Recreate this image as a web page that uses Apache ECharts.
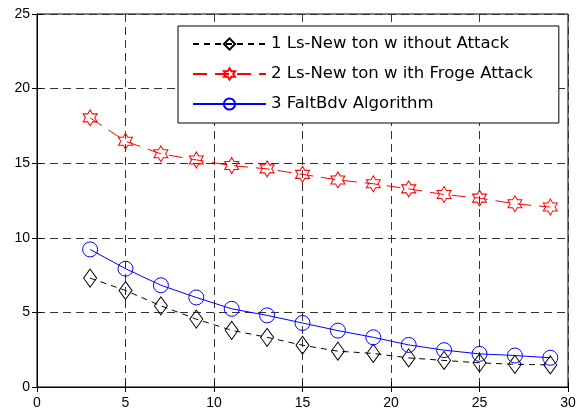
<!DOCTYPE html>
<html>
<head>
<meta charset="utf-8">
<script src="https://cdn.jsdelivr.net/npm/echarts@6/dist/echarts.min.js"></script>
<style>
  html, body { margin: 0; padding: 0; background: #fff; }
  #chart { width: 580px; height: 417px; }
</style>
</head>
<body>
<div id="chart"></div>
<script>
// x positions shared by all three curves
const xValues = [3, 5, 7, 9, 11, 13, 15, 17, 19, 21, 23, 25, 27, 29];

const withoutAttack = [7.3, 6.47, 5.44, 4.55, 3.8, 3.33, 2.8, 2.4, 2.25, 1.95, 1.78, 1.62, 1.52, 1.48];
const frogeAttack = [18.04, 16.47, 15.63, 15.22, 14.84, 14.62, 14.25, 13.88, 13.62, 13.28, 12.9, 12.66, 12.28, 12.06];
const faltBdv = [9.22, 7.93, 6.82, 6.0, 5.24, 4.8, 4.29, 3.78, 3.33, 2.82, 2.47, 2.22, 2.11, 1.96];

const seriesNames = [
  '1 Ls-New ton w ithout Attack',
  '2 Ls-New ton w ith Froge Attack',
  '3 FaltBdv Algorithm'
];

const xTicks = { min: 0, max: 30, interval: 5 };
const yTicks = { min: 0, max: 25, interval: 5 };

// six-pointed star marker (matlab 'h')
const HEXAGRAM = 'path://M0 -100 L29 -50 L87 -50 L58 0 L87 50 L29 50 L0 100 L-29 50 L-87 50 L-58 0 L-87 -50 L-29 -50 Z';

const pairs = ys => xValues.map((x, i) => [x, ys[i]]);

const gridLine = {
  show: true,
  lineStyle: { color: '#333', width: 1, type: [8, 5] }
};
const labelFont = { fontFamily: 'Liberation Sans, Arial, sans-serif', fontSize: 14, color: '#000' };

const chart = echarts.init(document.getElementById('chart'));

chart.setOption({
  animation: false,
  backgroundColor: '#fff',
  grid: {
    left: 37, right: 12, top: 14, bottom: 30,
    show: true, borderColor: '#000', borderWidth: 1, backgroundColor: '#fff'
  },
  legend: {
    orient: 'vertical',
    left: 178,
    top: 26,
    padding: [9, 26, 10, 14],
    itemWidth: 73,
    itemHeight: 14,
    itemGap: 12,
    backgroundColor: '#fff',
    borderColor: '#000',
    borderWidth: 1,
    borderRadius: 0,
    textStyle: { fontFamily: 'DejaVu Sans, sans-serif', fontSize: 16.5, color: '#000', lineHeight: 18 },
    data: seriesNames
  },
  xAxis: [
    {
      type: 'value',
      min: xTicks.min, max: xTicks.max, interval: xTicks.interval,
      axisLine: { show: true, lineStyle: { color: '#000' } },
      axisTick: { show: true, inside: true, length: 5, lineStyle: { color: '#000' } },
      axisLabel: Object.assign({ margin: 9 }, labelFont),
      splitLine: gridLine
    },
    {
      type: 'value', position: 'top',
      min: xTicks.min, max: xTicks.max, interval: xTicks.interval,
      axisLine: { show: true, lineStyle: { color: '#000' } },
      axisTick: { show: true, inside: true, length: 5, lineStyle: { color: '#000' } },
      axisLabel: { show: false },
      splitLine: { show: false }
    }
  ],
  yAxis: [
    {
      type: 'value',
      min: yTicks.min, max: yTicks.max, interval: yTicks.interval,
      axisLine: { show: true, lineStyle: { color: '#000' } },
      axisTick: { show: true, inside: true, length: 5, lineStyle: { color: '#000' } },
      axisLabel: Object.assign({ margin: 7 }, labelFont),
      splitLine: gridLine
    },
    {
      type: 'value', position: 'right',
      min: yTicks.min, max: yTicks.max, interval: yTicks.interval,
      axisLine: { show: true, lineStyle: { color: '#000' } },
      axisTick: { show: true, inside: true, length: 5, lineStyle: { color: '#000' } },
      axisLabel: { show: false },
      splitLine: { show: false }
    }
  ],
  series: [
    {
      name: seriesNames[0],
      type: 'line',
      data: pairs(withoutAttack),
      symbol: 'diamond',
      symbolSize: [13, 18],
      lineStyle: { color: '#000', width: 1, type: [6, 5] },
      itemStyle: { color: 'rgba(255,255,255,0)', borderColor: '#000', borderWidth: 1 }
    },
    {
      name: seriesNames[1],
      type: 'line',
      data: pairs(frogeAttack),
      symbol: HEXAGRAM,
      symbolSize: [14, 16],
      lineStyle: { color: '#ff0000', width: 1, type: [14, 8] },
      itemStyle: { color: 'rgba(255,255,255,0)', borderColor: '#ff0000', borderWidth: 1 }
    },
    {
      name: seriesNames[2],
      type: 'line',
      data: pairs(faltBdv),
      symbol: 'circle',
      symbolSize: 15,
      lineStyle: { color: '#0000ff', width: 1 },
      itemStyle: { color: 'rgba(255,255,255,0)', borderColor: '#0000ff', borderWidth: 1 }
    }
  ]
});
</script>
</body>
</html>
